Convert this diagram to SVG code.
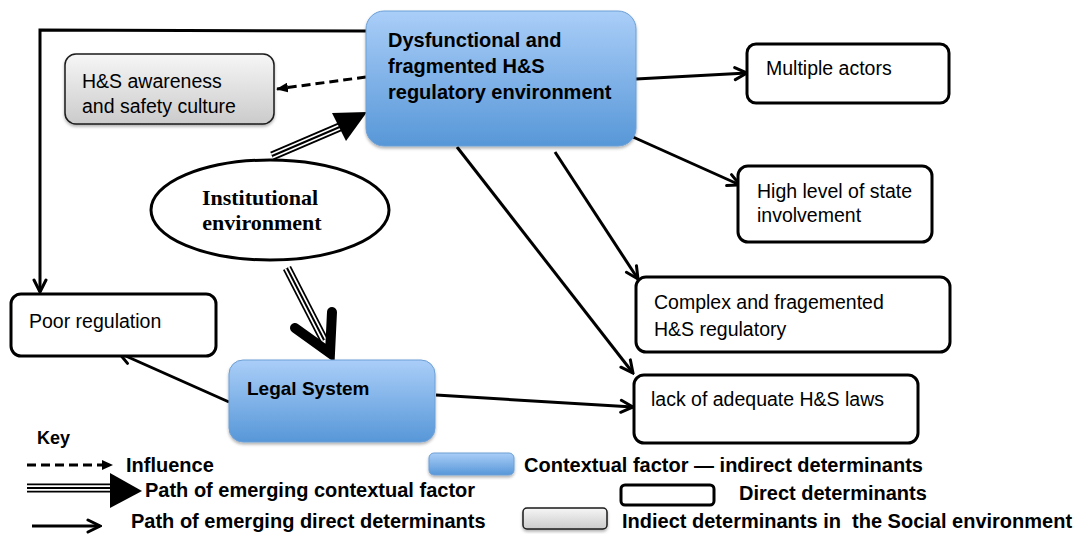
<svg xmlns="http://www.w3.org/2000/svg" width="1076" height="536" viewBox="0 0 1076 536">
  <style>
    .t { font-family: "Liberation Sans", Arial, sans-serif; font-size: 19.5px; fill: #000; }
    .tb { font-family: "Liberation Sans", Arial, sans-serif; font-size: 20px; font-weight: bold; fill: #000; }
    .ts { font-family: "Liberation Serif", "Times New Roman", serif; font-size: 22px; font-weight: bold; fill: #000; }
    .blue { fill: url(#gBlue); stroke: #6d9fd6; stroke-width: 1; filter: url(#sh); }
    .gray { fill: url(#gGray); stroke: #1a1a1a; stroke-width: 1.5; filter: url(#sh); }
    .white { fill: #fff; stroke: #000; stroke-width: 3; }
    .c { fill: none; stroke: #000; stroke-width: 3; }
    .dash { fill: none; stroke: #000; stroke-width: 3; stroke-dasharray: 9 5; }
    .tri1 { fill: none; stroke: #000; stroke-width: 9; }
    .tri2 { fill: none; stroke: #fff; stroke-width: 5.5; }
    .tri3 { fill: none; stroke: #000; stroke-width: 2; }
  </style>
  <defs>
    <linearGradient id="gBlue" x1="0" y1="0" x2="0" y2="1">
      <stop offset="0" stop-color="#aacef8"/>
      <stop offset="1" stop-color="#5797d8"/>
    </linearGradient>
    <linearGradient id="gGray" x1="0" y1="0" x2="0" y2="1">
      <stop offset="0" stop-color="#f6f6f6"/>
      <stop offset="1" stop-color="#cbcbcb"/>
    </linearGradient>
    <filter id="sh" x="-10%" y="-10%" width="120%" height="130%">
      <feDropShadow dx="0" dy="2" stdDeviation="1.5" flood-color="#000" flood-opacity="0.3"/>
    </filter>
    <marker id="open" viewBox="0 0 16 16" refX="14" refY="8" markerWidth="16" markerHeight="16" markerUnits="userSpaceOnUse" orient="auto">
      <path d="M2,2 L14,8 L2,14" fill="none" stroke="#000" stroke-width="3" stroke-linecap="round"/>
    </marker>
    <marker id="solid" viewBox="0 0 12 10" refX="11" refY="5" markerWidth="12" markerHeight="10" markerUnits="userSpaceOnUse" orient="auto">
      <path d="M0,0 L12,5 L0,10 Z" fill="#000"/>
    </marker>
  </defs>

  <g id="connectors">
    <polyline class="c" points="366,31 40,30 40,292" marker-end="url(#open)"/>
    <line class="dash" x1="366" y1="77" x2="277" y2="89" marker-end="url(#solid)"/>
    <g id="triple-to-dysfunctional">
      <line class="tri1" x1="272" y1="156" x2="342" y2="126"/>
      <line class="tri2" x1="272" y1="156" x2="342" y2="126"/>
      <line class="tri3" x1="272" y1="156" x2="342" y2="126"/>
      <polygon points="332,113 367,112 346,141" fill="#000"/>
    </g>
    <g id="triple-to-legal">
      <line class="tri1" x1="287" y1="268" x2="324" y2="340"/>
      <line class="tri2" x1="287" y1="268" x2="324" y2="340"/>
      <line class="tri3" x1="287" y1="268" x2="324" y2="340"/>
      <polyline points="295,328 330,353 332,312" fill="none" stroke="#000" stroke-width="10" stroke-linecap="round" stroke-linejoin="miter"/>
    </g>
    <line class="c" x1="636" y1="79" x2="747" y2="73" marker-end="url(#open)"/>
    <line class="c" x1="633" y1="137" x2="740" y2="185" marker-end="url(#open)"/>
    <line class="c" x1="555" y1="152" x2="638" y2="279" marker-end="url(#open)"/>
    <line class="c" x1="457" y1="147" x2="633" y2="373" marker-end="url(#open)"/>
    <line class="c" x1="229" y1="402" x2="119" y2="353" marker-end="url(#open)"/>
    <line class="c" x1="436" y1="395" x2="633" y2="407" marker-end="url(#open)"/>
  </g>

  <g id="n-dysfunctional">
    <rect class="blue" x="366" y="11" width="270" height="135" rx="18"/>
    <text class="tb" x="388" y="47">Dysfunctional and</text>
    <text class="tb" x="388" y="73">fragmented H&amp;S</text>
    <text class="tb" x="388" y="99">regulatory environment</text>
  </g>

  <g id="n-awareness">
    <rect class="gray" x="65" y="54" width="209" height="70" rx="11"/>
    <text class="t" x="82" y="88">H&amp;S awareness</text>
    <text class="t" x="82" y="113">and safety culture</text>
  </g>

  <g id="n-institutional">
    <ellipse cx="270" cy="210" rx="119" ry="50" fill="#fff" stroke="#000" stroke-width="3"/>
    <text class="ts" x="260" y="205" text-anchor="middle">Institutional</text>
    <text class="ts" x="262" y="230" text-anchor="middle">environment</text>
  </g>

  <g id="n-multiple">
    <rect class="white" x="747" y="44" width="202" height="59" rx="9"/>
    <text class="t" x="766" y="75">Multiple actors</text>
  </g>

  <g id="n-highlevel">
    <rect class="white" x="738" y="166" width="194" height="76" rx="10"/>
    <text class="t" x="757" y="198">High level of state</text>
    <text class="t" x="757" y="222">involvement</text>
  </g>

  <g id="n-complex">
    <rect class="white" x="636" y="277" width="314" height="75" rx="10"/>
    <text class="t" x="654" y="309">Complex and fragemented</text>
    <text class="t" x="654" y="336">H&amp;S regulatory</text>
  </g>

  <g id="n-lack">
    <rect class="white" x="634" y="375" width="284" height="68" rx="10"/>
    <text class="t" x="651" y="406">lack of adequate H&amp;S laws</text>
  </g>

  <g id="n-poor">
    <rect class="white" x="11" y="294" width="205" height="62" rx="10"/>
    <text class="t" x="29" y="328">Poor regulation</text>
  </g>

  <g id="n-legal">
    <rect class="blue" x="229" y="360" width="206" height="82" rx="14"/>
    <text class="tb" x="247" y="395" style="font-size:19px">Legal System</text>
  </g>

  <g id="legend">
    <text class="tb" x="37" y="444" style="font-size:18px">Key</text>

    <line class="dash" x1="27" y1="465" x2="104" y2="465" stroke-dasharray="8 5"/>
    <polygon points="102,460 113,465 102,470" fill="#000"/>
    <text class="tb" x="126" y="472">Influence</text>

    <line class="tri1" x1="27" y1="488" x2="112" y2="488"/>
    <line class="tri2" x1="27" y1="488" x2="112" y2="488"/>
    <line class="tri3" x1="27" y1="488" x2="112" y2="488"/>
    <polygon points="110,473 142,491 110,508" fill="#000"/>
    <text class="tb" x="145" y="497">Path of emerging contextual factor</text>

    <line class="c" x1="32" y1="526" x2="100" y2="526" marker-end="url(#open)"/>
    <text class="tb" x="131" y="528">Path of emerging direct determinants</text>

    <rect class="blue" x="429" y="453" width="85" height="22" rx="5"/>
    <text class="tb" x="524" y="472">Contextual factor — indirect determinants</text>

    <rect class="white" x="621" y="485" width="93" height="20" rx="4"/>
    <text class="tb" x="739" y="500">Direct determinants</text>

    <rect class="gray" x="523" y="508" width="84" height="21" rx="4"/>
    <text class="tb" x="622" y="528" xml:space="preserve">Indiect determinants in  the Social environment</text>
  </g>
</svg>
